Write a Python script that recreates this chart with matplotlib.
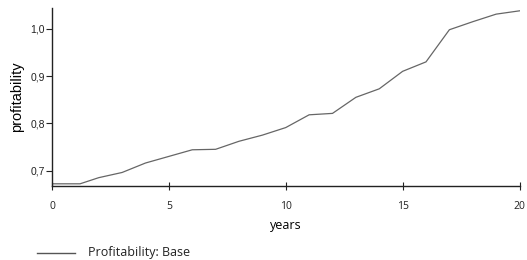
import matplotlib
matplotlib.use("Agg")
import matplotlib.pyplot as plt
from matplotlib.lines import Line2D

years = [0, 1.2, 2, 3, 4, 5, 6, 7, 8, 9, 10, 11, 12, 13, 14, 15, 16, 17, 18, 19, 20]
profit = [0.672, 0.672, 0.685, 0.696, 0.716, 0.730, 0.744, 0.745, 0.762, 0.775,
          0.791, 0.818, 0.821, 0.855, 0.873, 0.910, 0.930, 0.998, 1.015, 1.031, 1.038]
xticks = [0, 5, 10, 15, 20]
yticks = [0.7, 0.8, 0.9, 1.0]
ytick_labels = ["0,7", "0,8", "0,9", "1,0"]

fig = plt.figure(figsize=(5.27, 2.6), dpi=100)
ax = fig.add_axes([52/527, 1 - 185.7/260, (519.5-52)/527, (185.7-8)/260])
ax.plot(years, profit, color="#666666", lw=0.9)
ax.set_xlim(0, 20)
ax.set_ylim(0.668, 1.044)
ax.set_xticks(xticks)
ax.set_xticklabels([str(t) for t in xticks], family="Open Sans", fontsize=7.5)
ax.set_yticks(yticks)
ax.set_yticklabels(ytick_labels, family="Liberation Sans", fontsize=7.5)
for s in ["top", "right"]:
    ax.spines[s].set_visible(False)
for s in ["left", "bottom"]:
    ax.spines[s].set_color("#222222")
    ax.spines[s].set_linewidth(1.0)
ax.tick_params(axis="x", direction="inout", length=6, width=0.8, colors="#222222", pad=8)
ax.tick_params(axis="y", direction="out", length=4, width=0.8, colors="#222222", pad=1)
ax.set_xlabel("years", family="Open Sans", fontsize=9, labelpad=5)
ax.set_ylabel("profitability", family="Liberation Sans", fontsize=10.5, labelpad=5)

fig.add_artist(Line2D([37/527, 75/527], [1 - 253/260, 1 - 253/260], color="#555555", lw=1.0))
fig.text(88/527, 1 - 252.5/260, "Profitability: Base", family="Open Sans", fontsize=9,
         va="center", ha="left", color="#222222")

fig.savefig("out.png", dpi=100)
